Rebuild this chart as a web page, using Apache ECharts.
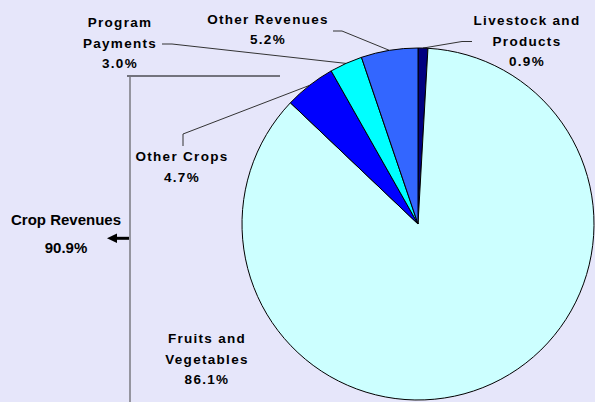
<!DOCTYPE html>
<html><head><meta charset="utf-8">
<script src="https://cdn.jsdelivr.net/npm/echarts@6/dist/echarts.min.js"></script>
<style>html,body{margin:0;padding:0;background:#E6E6FA}#chart{width:595px;height:402px}</style>
</head><body><div id="chart"></div>
<script>
// ---- data ----
const categories = ['Livestock and\nProducts', 'Fruits and\nVegetables', 'Other Crops', 'Program\nPayments', 'Other Revenues'];
const shares = [0.9, 86.1, 4.7, 3.0, 5.2];
const sliceColors = ['#000080', '#CCFFFF', '#0000FF', '#00FFFF', '#3366FF'];
const groupName = 'Crop Revenues';
const groupShare = 90.9;

// ---- label placement (centre of label block and leader bends) ----
const labelSpots = [
  {x: 527, y: 41, line: [[462, 41.5], [472, 41.5]]},
  {x: 207, y: 359, line: null},
  {x: 182, y: 167, line: [[183, 134], [183, 146]]},
  {x: 120, y: 43, line: [[172, 44], [162, 44]]},
  {x: 268, y: 29.5, line: [[342, 31], [333, 31]]}
];

const FONT = "'Liberation Sans', Arial, sans-serif";
const chart = echarts.init(document.getElementById('chart'), null, {renderer: 'svg'});

const data = categories.map((c, i) => ({
  name: c,
  value: shares[i],
  itemStyle: {color: sliceColors[i]},
  labelLine: {show: labelSpots[i].line !== null}
}));

chart.setOption({
  backgroundColor: '#E6E6FA',
  animation: false,
  series: [{
    type: 'pie',
    center: [418, 224],
    radius: 176,
    startAngle: 90,
    clockwise: true,
    avoidLabelOverlap: false,
    silent: true,
    itemStyle: {borderColor: '#000', borderWidth: 1},
    label: {
      show: true,
      position: 'outside',
      color: '#000',
      fontFamily: FONT,
      fontWeight: 'bold',
      fontSize: 13.5,
      lineHeight: 20.5,
      align: 'center',
      formatter: p => p.name + '\n' + p.value.toFixed(1) + '%'
    },
    labelLine: {show: true, smooth: false, lineStyle: {color: '#333', width: 1}},
    labelLayout: function (p) {
      const s = labelSpots[p.dataIndex];
      const out = {x: s.x, y: s.y, align: 'center', verticalAlign: 'middle'};
      if (s.line && p.labelLinePoints) {
        out.labelLinePoints = [p.labelLinePoints[0]].concat(s.line);
      }
      return out;
    },
    emphasis: {disabled: true},
    data: data
  }],
  graphic: [
    {type: 'polyline', shape: {points: [[280, 76], [127, 76]]}, style: {stroke: '#000', lineWidth: 1, fill: null}},
    {type: 'polyline', shape: {points: [[130, 77], [130, 402]]}, style: {stroke: '#444', lineWidth: 1, fill: null}},
    {type: 'polyline', shape: {points: [[129, 238.3], [115, 238.3]]}, style: {stroke: '#000', lineWidth: 3, fill: null}},
    {type: 'polygon', shape: {points: [[107, 238.3], [117, 233.5], [117, 243.1]]}, style: {fill: '#000'}},
    {type: 'text', x: 66, y: 219, style: {text: groupName, font: 'bold 15px ' + FONT, textAlign: 'center', textVerticalAlign: 'middle', fill: '#000'}},
    {type: 'text', x: 66, y: 247.5, style: {text: groupShare.toFixed(1) + '%', font: 'bold 15px ' + FONT, textAlign: 'center', textVerticalAlign: 'middle', fill: '#000'}}
  ]
});

function spaceLetters() {
  document.querySelectorAll('#chart svg text').forEach(t => {
    const s = t.textContent;
    if (s === groupName || s === groupShare.toFixed(1) + '%') return;
    t.setAttribute('letter-spacing', '1.3');
  });
}
chart.on('finished', spaceLetters);
setTimeout(spaceLetters, 50);
</script>
</body></html>
